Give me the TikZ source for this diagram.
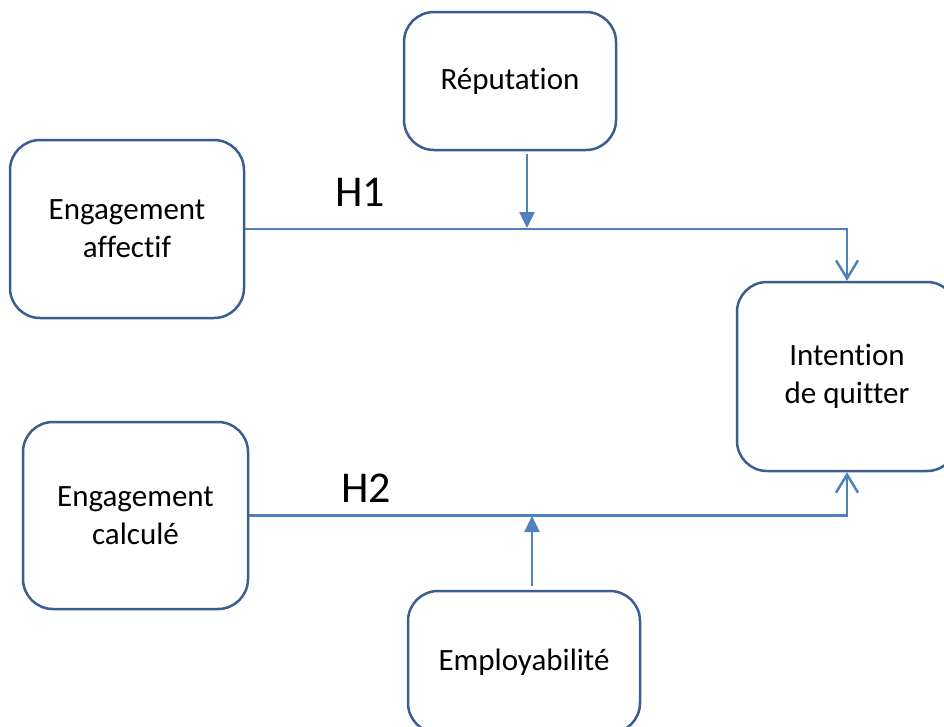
\documentclass[tikz,border=0pt]{standalone}
\usepackage{fontspec}
\setmainfont[RawFeature={-liga;-clig;-calt;-dlig}]{Carlito}
\usetikzlibrary{arrows.meta}
\definecolor{boxline}{HTML}{3A5F8F}
\definecolor{conn}{HTML}{4F81BD}
\tikzset{
  box/.style={draw=boxline, line width=2.5pt, rounded corners=30pt, fill=white,
    align=center, inner sep=0pt, font=\fontsize{31}{38}\selectfont},
  link/.style={draw=conn, line width=2.5pt},
  openarrow/.style={link, -{Straight Barb[length=18pt,width=22pt,line width=2.5pt]}},
  fillarrow/.style={link, -{Triangle[length=16pt,width=15pt]}, fill=conn},
  hyp/.style={font=\fontsize{44}{50}\selectfont, inner sep=0pt}
}
\begin{document}
\begin{tikzpicture}[x=1pt,y=-1pt]
\useasboundingbox (0,0) rectangle (944,726);
\clip (0,0) rectangle (944,726);
\fill[white] (0,0) rectangle (944,726);
\node[box, minimum width=212pt, minimum height=138pt] (rep) at (510,81) {Réputation};
\node[box, minimum width=234pt, minimum height=178pt] (ea) at (127,229) {Engagement\\affectif};
\node[box, minimum width=220pt, minimum height=189pt] (iq) at (847,376.5) {Intention\\de quitter};
\node[box, minimum width=225pt, minimum height=187pt] (ec) at (135.5,515.5) {Engagement\\calculé};
\node[box, minimum width=232pt, minimum height=142pt] (emp) at (524,662) {Employabilité};
\node[hyp] (h1) at (360,192) {H1};
\node[hyp] (h2) at (366,488) {H2};
\coordinate (m1) at (527,228);
\coordinate (m2) at (532,516);
\draw[openarrow] (ea.east) -| (iq.north);
\draw[openarrow] (ec.east) -| (iq.south);
\draw[fillarrow] ([xshift=17pt,yshift=-3pt]rep.south) -- (m1);
\draw[fillarrow] ([xshift=8pt,yshift=4pt]emp.north) -- (m2);
\end{tikzpicture}
\end{document}
